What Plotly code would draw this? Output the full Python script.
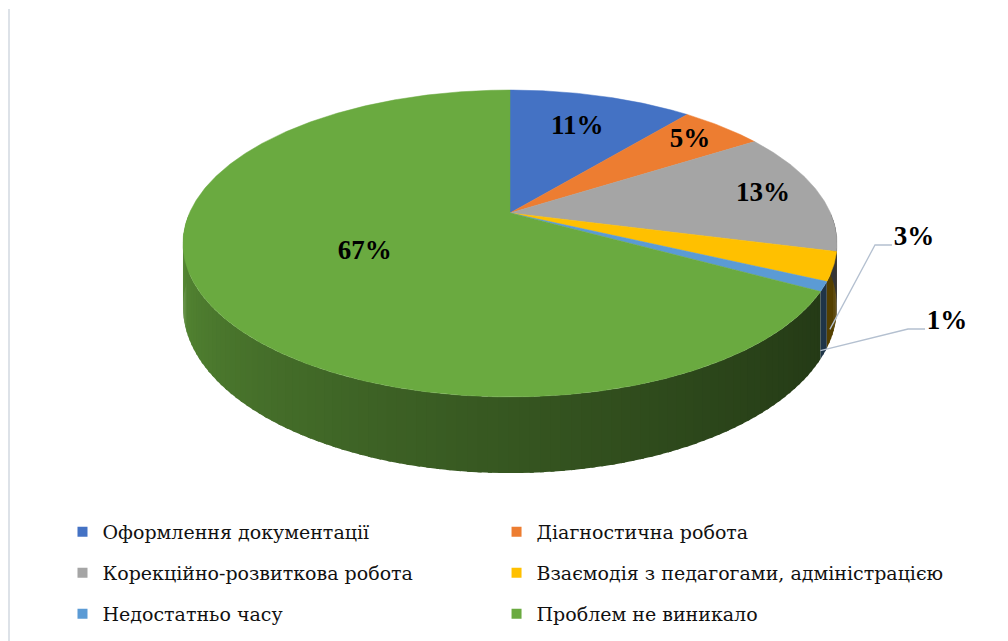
import numpy as np
import plotly.graph_objects as go

# ---------------- data ----------------
categories = [
    "Оформлення документації",
    "Діагностична робота",
    "Корекційно-розвиткова робота",
    "Взаємодія з педагогами, адміністрацією",
    "Недостатньо часу",
    "Проблем не виникало",
]
values = [11, 5, 13, 3, 1, 67]
value_labels = ["11%", "5%", "13%", "3%", "1%", "67%"]

# ---------------- style ----------------
colors = ["#4472C4", "#ED7D31", "#A5A5A5", "#FFC000", "#5B9BD5", "#6AAA40"]
label_radius = [0.70, 0.83, 0.82, None, None, 0.50]   # inside labels (fraction of radius)
outside_label_pos = {3: (914, 238), 4: (947, 322)}     # pixel positions of outside labels
SERIF = "Liberation Serif"
LEGEND_FONT = "DejaVu Serif"
legend_cols_x = [0.062, 0.4926]                        # paper x of the two legend columns
legend_rows_y = [532, 573, 614]                        # pixel y of the three legend rows

# projected 3-D pie geometry (pixel space)
CX, CY = 510, 213
A, B, K, D = 320.5, 147.4, 0.1987, 61


def proj(theta_deg, r=1.0, h=0.0):
    t = np.radians(theta_deg)
    u = r * np.sin(t)
    v = r * np.cos(t)
    w = 1 + K * v
    return CX + A * u / w, CY - B * v / w + D * h / w


def shade(hex_color, f):
    h = hex_color.lstrip("#")
    rgb = [int(h[i:i + 2], 16) for i in (0, 2, 4)]
    return "rgb({},{},{})".format(*[max(0, min(255, int(round(c * f)))) for c in rgb])


def shade_factor(theta):
    x = np.clip((theta - 110.0) / 160.0, 0, 1)
    return 0.33 + 0.52 * x ** 1.3


total = float(sum(values))
bounds = np.concatenate([[0], np.cumsum(values)]) / total * 360.0

fig = go.Figure()

# ---- side walls (front half only), drawn left-to-right so overlaps hide seams ----
for i in reversed(range(len(colors))):
    c = colors[i]
    a0, a1 = bounds[i], bounds[i + 1]
    s, e = max(a0, 90.0), min(a1, 270.0)
    if e <= s:
        continue
    n = max(1, int(np.ceil((e - s) / 1.5)))
    edges = np.linspace(s, e, n + 1)
    for j in reversed(range(n)):
        lo = edges[j] - (0.6 if j > 0 else 0.0)
        th = np.linspace(lo, edges[j + 1], 5)
        xt, yt = proj(th, 1.0, 0.0)
        xb, yb = proj(th[::-1], 1.0, 1.0)
        xs = np.concatenate([xt, xb, xt[:1]])
        ys = np.concatenate([yt, yb, yt[:1]])
        col = shade(c, shade_factor((edges[j] + edges[j + 1]) / 2))
        fig.add_trace(go.Scatter(x=xs, y=ys, mode="lines", fill="toself",
                                 fillcolor=col, line=dict(width=0),
                                 hoverinfo="skip", showlegend=False))

# ---- top faces ----
for i, c in enumerate(colors):
    a0, a1 = bounds[i], bounds[i + 1]
    th = np.linspace(a0, a1, max(3, int((a1 - a0) / 0.5)))
    xa, ya = proj(th)
    xs = np.concatenate([[CX], xa, [CX]])
    ys = np.concatenate([[CY], ya, [CY]])
    fig.add_trace(go.Scatter(x=xs, y=ys, mode="lines", fill="toself",
                             fillcolor=c, line=dict(color=c, width=0.5),
                             name=categories[i], hoverinfo="name", showlegend=False))

# ---- inside labels ----
lx, ly, lt = [], [], []
for i, r in enumerate(label_radius):
    if r is None:
        continue
    mid = (bounds[i] + bounds[i + 1]) / 2
    px, py = proj(mid, r)
    lx.append(px); ly.append(py); lt.append("<b>" + value_labels[i] + "</b>")
fig.add_trace(go.Scatter(x=lx, y=ly, mode="text", text=lt, textposition="middle center",
                         textfont=dict(family=SERIF, size=27, color="#000000"),
                         hoverinfo="skip", showlegend=False))

# ---- outside labels with leader lines ----
for i, (tx, ty) in outside_label_pos.items():
    mid = (bounds[i] + bounds[i + 1]) / 2
    axp, ayp = proj(mid, 0.99, 0.97)
    lx0 = tx - 22
    line_y = ty + 7
    fig.add_trace(go.Scatter(x=[axp, lx0 - 17, lx0], y=[ayp, line_y, line_y], mode="lines",
                             line=dict(color="#B4C0D0", width=1.3),
                             hoverinfo="skip", showlegend=False))
    fig.add_trace(go.Scatter(x=[tx], y=[ty], mode="text", text=["<b>" + value_labels[i] + "</b>"],
                             textposition="middle center",
                             textfont=dict(family=SERIF, size=27, color="#000000"),
                             hoverinfo="skip", showlegend=False))

# ---- legend entries (3 rows x 2 columns, one legend box per entry) ----
legend_layout = {}
for i, cat in enumerate(categories):
    lid = "legend" if i == 0 else "legend%d" % (i + 1)
    fig.add_trace(go.Scatter(x=[None], y=[None], mode="markers", name=cat,
                             marker=dict(symbol="square", size=10, color=colors[i]),
                             legend=lid, showlegend=True))
    legend_layout[lid] = dict(
        orientation="h", x=legend_cols_x[i % 2], xanchor="left",
        y=1 - legend_rows_y[i // 2] / 641, yanchor="middle",
        font=dict(family=LEGEND_FONT, size=19, color="#111111"),
        bgcolor="rgba(0,0,0,0)", itemclick=False, itemdoubleclick=False)

fig.update_layout(
    font=dict(family=LEGEND_FONT, size=19, color="#111111"),
    xaxis=dict(range=[0, 1008], visible=False, fixedrange=True),
    yaxis=dict(range=[641, 0], visible=False, fixedrange=True),
    margin=dict(l=0, r=0, t=0, b=0),
    paper_bgcolor="white",
    plot_bgcolor="white",
    showlegend=True,
    shapes=[dict(type="line", xref="paper", yref="paper", x0=9 / 1008, x1=9 / 1008,
                 y0=0, y1=1 - 9 / 641, line=dict(color="#DDE2E8", width=2))],
    **legend_layout,
)

fig.write_html(
    "out.html",
    config={"displayModeBar": False},
    post_script="document.body.style.margin='0';document.body.style.overflow='hidden';"
                "Plotly.Plots.resize(document.getElementById('{plot_id}'));",
)
